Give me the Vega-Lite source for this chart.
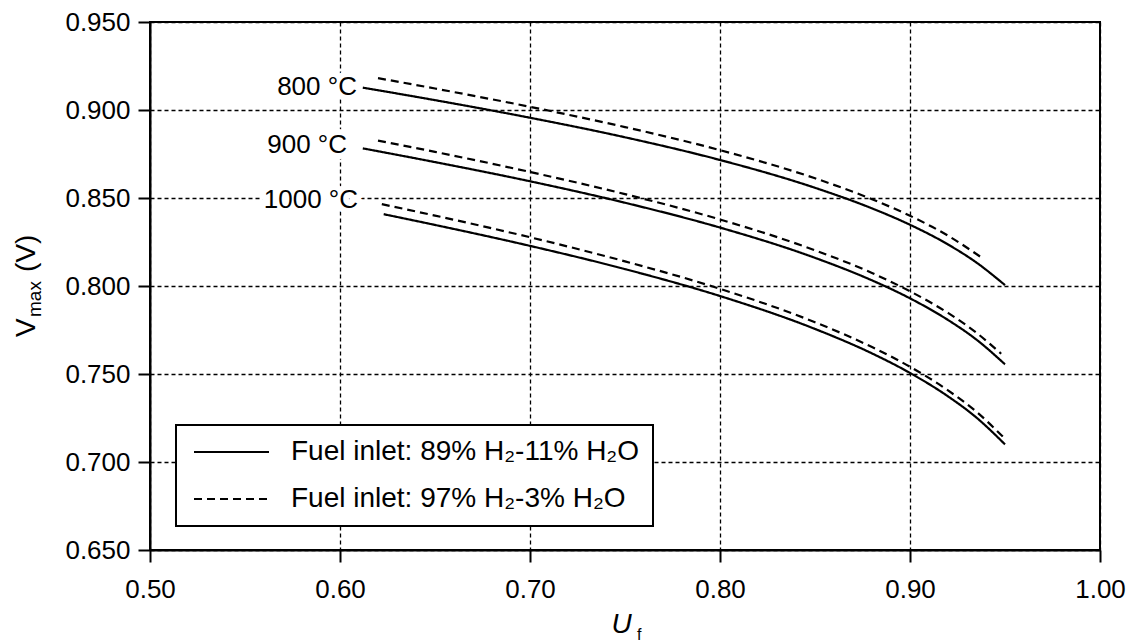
{
  "$schema": "https://vega.github.io/schema/vega-lite/v6.json",
  "width": 950,
  "height": 528,
  "autosize": {"type": "none"},
  "padding": {"left": 150, "top": 22, "right": 29, "bottom": 94},
  "background": "white",
  "config": {
    "font": "Liberation Sans",
    "view": {"stroke": "black", "strokeWidth": 2},
    "axis": {
      "grid": true,
      "gridDash": [4, 3],
      "gridColor": "black",
      "gridWidth": 1.3,
      "gridOpacity": 1,
      "domainColor": "black",
      "domainWidth": 2,
      "tickColor": "black",
      "tickWidth": 2,
      "tickSize": 12,
      "labelFont": "Liberation Sans",
      "labelFontSize": 26,
      "labelColor": "black",
      "labelFlush": false,
      "labelOverlap": false,
      "titleFont": "Liberation Sans",
      "titleColor": "black",
      "titleFontWeight": "normal"
    },
    "legend": {
      "strokeColor": "black",
      "strokeWidth": 2,
      "fillColor": "white"
    }
  },
  "datasets": {
    "curves": [
      {"T": "800 °C", "fuel": "Fuel inlet: 89% H₂-11% H₂O", "U": 0.612, "V": 0.9127},
      {"T": "800 °C", "fuel": "Fuel inlet: 89% H₂-11% H₂O", "U": 0.65, "V": 0.9056},
      {"T": "800 °C", "fuel": "Fuel inlet: 89% H₂-11% H₂O", "U": 0.70, "V": 0.8956},
      {"T": "800 °C", "fuel": "Fuel inlet: 89% H₂-11% H₂O", "U": 0.75, "V": 0.8845},
      {"T": "800 °C", "fuel": "Fuel inlet: 89% H₂-11% H₂O", "U": 0.80, "V": 0.8716},
      {"T": "800 °C", "fuel": "Fuel inlet: 89% H₂-11% H₂O", "U": 0.85, "V": 0.8558},
      {"T": "800 °C", "fuel": "Fuel inlet: 89% H₂-11% H₂O", "U": 0.88, "V": 0.8441},
      {"T": "800 °C", "fuel": "Fuel inlet: 89% H₂-11% H₂O", "U": 0.90, "V": 0.8348},
      {"T": "800 °C", "fuel": "Fuel inlet: 89% H₂-11% H₂O", "U": 0.92, "V": 0.8236},
      {"T": "800 °C", "fuel": "Fuel inlet: 89% H₂-11% H₂O", "U": 0.935, "V": 0.8133},
      {"T": "800 °C", "fuel": "Fuel inlet: 89% H₂-11% H₂O", "U": 0.95, "V": 0.8005},
      {"T": "800 °C", "fuel": "Fuel inlet: 97% H₂-3% H₂O", "U": 0.62, "V": 0.9181},
      {"T": "800 °C", "fuel": "Fuel inlet: 97% H₂-3% H₂O", "U": 0.65, "V": 0.9122},
      {"T": "800 °C", "fuel": "Fuel inlet: 97% H₂-3% H₂O", "U": 0.70, "V": 0.9018},
      {"T": "800 °C", "fuel": "Fuel inlet: 97% H₂-3% H₂O", "U": 0.75, "V": 0.8903},
      {"T": "800 °C", "fuel": "Fuel inlet: 97% H₂-3% H₂O", "U": 0.80, "V": 0.8772},
      {"T": "800 °C", "fuel": "Fuel inlet: 97% H₂-3% H₂O", "U": 0.85, "V": 0.8612},
      {"T": "800 °C", "fuel": "Fuel inlet: 97% H₂-3% H₂O", "U": 0.88, "V": 0.8493},
      {"T": "800 °C", "fuel": "Fuel inlet: 97% H₂-3% H₂O", "U": 0.90, "V": 0.8399},
      {"T": "800 °C", "fuel": "Fuel inlet: 97% H₂-3% H₂O", "U": 0.92, "V": 0.8286},
      {"T": "800 °C", "fuel": "Fuel inlet: 97% H₂-3% H₂O", "U": 0.938, "V": 0.8159},
      {"T": "900 °C", "fuel": "Fuel inlet: 89% H₂-11% H₂O", "U": 0.612, "V": 0.8782},
      {"T": "900 °C", "fuel": "Fuel inlet: 89% H₂-11% H₂O", "U": 0.65, "V": 0.8704},
      {"T": "900 °C", "fuel": "Fuel inlet: 89% H₂-11% H₂O", "U": 0.70, "V": 0.8595},
      {"T": "900 °C", "fuel": "Fuel inlet: 89% H₂-11% H₂O", "U": 0.75, "V": 0.8473},
      {"T": "900 °C", "fuel": "Fuel inlet: 89% H₂-11% H₂O", "U": 0.80, "V": 0.8332},
      {"T": "900 °C", "fuel": "Fuel inlet: 89% H₂-11% H₂O", "U": 0.85, "V": 0.8160},
      {"T": "900 °C", "fuel": "Fuel inlet: 89% H₂-11% H₂O", "U": 0.88, "V": 0.8032},
      {"T": "900 °C", "fuel": "Fuel inlet: 89% H₂-11% H₂O", "U": 0.90, "V": 0.7930},
      {"T": "900 °C", "fuel": "Fuel inlet: 89% H₂-11% H₂O", "U": 0.92, "V": 0.7807},
      {"T": "900 °C", "fuel": "Fuel inlet: 89% H₂-11% H₂O", "U": 0.935, "V": 0.7695},
      {"T": "900 °C", "fuel": "Fuel inlet: 89% H₂-11% H₂O", "U": 0.95, "V": 0.7555},
      {"T": "900 °C", "fuel": "Fuel inlet: 97% H₂-3% H₂O", "U": 0.62, "V": 0.8826},
      {"T": "900 °C", "fuel": "Fuel inlet: 97% H₂-3% H₂O", "U": 0.65, "V": 0.8762},
      {"T": "900 °C", "fuel": "Fuel inlet: 97% H₂-3% H₂O", "U": 0.70, "V": 0.8648},
      {"T": "900 °C", "fuel": "Fuel inlet: 97% H₂-3% H₂O", "U": 0.75, "V": 0.8522},
      {"T": "900 °C", "fuel": "Fuel inlet: 97% H₂-3% H₂O", "U": 0.80, "V": 0.8378},
      {"T": "900 °C", "fuel": "Fuel inlet: 97% H₂-3% H₂O", "U": 0.85, "V": 0.8203},
      {"T": "900 °C", "fuel": "Fuel inlet: 97% H₂-3% H₂O", "U": 0.88, "V": 0.8074},
      {"T": "900 °C", "fuel": "Fuel inlet: 97% H₂-3% H₂O", "U": 0.90, "V": 0.7970},
      {"T": "900 °C", "fuel": "Fuel inlet: 97% H₂-3% H₂O", "U": 0.92, "V": 0.7847},
      {"T": "900 °C", "fuel": "Fuel inlet: 97% H₂-3% H₂O", "U": 0.935, "V": 0.7734},
      {"T": "900 °C", "fuel": "Fuel inlet: 97% H₂-3% H₂O", "U": 0.948, "V": 0.7615},
      {"T": "1000 °C", "fuel": "Fuel inlet: 89% H₂-11% H₂O", "U": 0.623, "V": 0.8408},
      {"T": "1000 °C", "fuel": "Fuel inlet: 89% H₂-11% H₂O", "U": 0.65, "V": 0.8347},
      {"T": "1000 °C", "fuel": "Fuel inlet: 89% H₂-11% H₂O", "U": 0.70, "V": 0.8228},
      {"T": "1000 °C", "fuel": "Fuel inlet: 89% H₂-11% H₂O", "U": 0.75, "V": 0.8096},
      {"T": "1000 °C", "fuel": "Fuel inlet: 89% H₂-11% H₂O", "U": 0.80, "V": 0.7943},
      {"T": "1000 °C", "fuel": "Fuel inlet: 89% H₂-11% H₂O", "U": 0.85, "V": 0.7756},
      {"T": "1000 °C", "fuel": "Fuel inlet: 89% H₂-11% H₂O", "U": 0.88, "V": 0.7617},
      {"T": "1000 °C", "fuel": "Fuel inlet: 89% H₂-11% H₂O", "U": 0.90, "V": 0.7506},
      {"T": "1000 °C", "fuel": "Fuel inlet: 89% H₂-11% H₂O", "U": 0.92, "V": 0.7373},
      {"T": "1000 °C", "fuel": "Fuel inlet: 89% H₂-11% H₂O", "U": 0.935, "V": 0.7252},
      {"T": "1000 °C", "fuel": "Fuel inlet: 89% H₂-11% H₂O", "U": 0.95, "V": 0.7100},
      {"T": "1000 °C", "fuel": "Fuel inlet: 97% H₂-3% H₂O", "U": 0.622, "V": 0.8465},
      {"T": "1000 °C", "fuel": "Fuel inlet: 97% H₂-3% H₂O", "U": 0.65, "V": 0.8400},
      {"T": "1000 °C", "fuel": "Fuel inlet: 97% H₂-3% H₂O", "U": 0.70, "V": 0.8277},
      {"T": "1000 °C", "fuel": "Fuel inlet: 97% H₂-3% H₂O", "U": 0.75, "V": 0.8140},
      {"T": "1000 °C", "fuel": "Fuel inlet: 97% H₂-3% H₂O", "U": 0.80, "V": 0.7984},
      {"T": "1000 °C", "fuel": "Fuel inlet: 97% H₂-3% H₂O", "U": 0.85, "V": 0.7794},
      {"T": "1000 °C", "fuel": "Fuel inlet: 97% H₂-3% H₂O", "U": 0.88, "V": 0.7653},
      {"T": "1000 °C", "fuel": "Fuel inlet: 97% H₂-3% H₂O", "U": 0.90, "V": 0.7541},
      {"T": "1000 °C", "fuel": "Fuel inlet: 97% H₂-3% H₂O", "U": 0.92, "V": 0.7407},
      {"T": "1000 °C", "fuel": "Fuel inlet: 97% H₂-3% H₂O", "U": 0.935, "V": 0.7285},
      {"T": "1000 °C", "fuel": "Fuel inlet: 97% H₂-3% H₂O", "U": 0.95, "V": 0.7132}
    ],
    "labels": [
      {"label": "800 °C", "U": 0.6089, "V": 0.9131},
      {"label": "900 °C", "U": 0.6037, "V": 0.8801},
      {"label": "1000 °C", "U": 0.6095, "V": 0.8489}
    ]
  },
  "layer": [
    {
      "data": {"name": "labels"},
      "mark": {"type": "text", "align": "right", "baseline": "middle", "fontSize": 26, "fill": "white", "stroke": "white", "strokeWidth": 12, "strokeJoin": "round"},
      "encoding": {
        "x": {"field": "U", "type": "quantitative"},
        "y": {"field": "V", "type": "quantitative"},
        "text": {"field": "label"}
      }
    },
    {
      "data": {"name": "curves"},
      "mark": {"type": "line", "interpolate": "monotone", "strokeWidth": 2.2, "color": "black"},
      "encoding": {
        "x": {
          "field": "U", "type": "quantitative",
          "scale": {"domain": [0.5, 1.0], "nice": false, "zero": false},
          "axis": {
            "values": [0.5, 0.6, 0.7, 0.8, 0.9, 1.0],
            "format": ".2f",
            "labelPadding": 14,
            "title": "U",
            "titleFontStyle": "italic",
            "titleFontSize": 28,
            "titleX": 471,
            "titlePadding": 8
          }
        },
        "y": {
          "field": "V", "type": "quantitative",
          "scale": {"domain": [0.65, 0.95], "nice": false, "zero": false},
          "axis": {
            "values": [0.65, 0.7, 0.75, 0.8, 0.85, 0.9, 0.95],
            "format": ".3f",
            "labelPadding": 8,
            "title": null
          }
        },
        "detail": {"field": "T"},
        "strokeDash": {
          "field": "fuel", "type": "nominal",
          "scale": {
            "domain": ["Fuel inlet: 89% H₂-11% H₂O", "Fuel inlet: 97% H₂-3% H₂O"],
            "range": [[1, 0], [8, 5]]
          },
          "legend": {
            "orient": "none",
            "legendX": 26,
            "legendY": 403,
            "title": null,
            "symbolType": "stroke",
            "symbolSize": 5625,
            "symbolStrokeWidth": 2,
            "symbolStrokeColor": "black",
            "symbolOffset": 4,
            "clipHeight": 28,
            "labelFont": "Liberation Sans",
            "labelFontSize": 28,
            "labelColor": "black",
            "labelLimit": 600,
            "labelOffset": 21,
            "padding": 13,
            "rowPadding": 19
          }
        }
      }
    },
    {
      "data": {"name": "labels"},
      "mark": {"type": "text", "align": "right", "baseline": "middle", "fontSize": 26, "color": "black"},
      "encoding": {
        "x": {"field": "U", "type": "quantitative"},
        "y": {"field": "V", "type": "quantitative"},
        "text": {"field": "label"}
      }
    },
    {
      "data": {"values": [{}]},
      "mark": {"type": "text", "text": "f", "fontSize": 16, "align": "left", "baseline": "alphabetic", "color": "black"},
      "encoding": {
        "x": {"datum": 0.7563, "type": "quantitative"},
        "y": {"datum": 0.5989, "type": "quantitative"}
      }
    },
    {
      "data": {"values": [{}]},
      "mark": {"type": "text", "text": "V", "fontSize": 28, "angle": 270, "align": "left", "baseline": "alphabetic", "color": "black"},
      "encoding": {
        "x": {"datum": 0.4395, "type": "quantitative"},
        "y": {"datum": 0.771, "type": "quantitative"}
      }
    },
    {
      "data": {"values": [{}]},
      "mark": {"type": "text", "text": "max", "fontSize": 19, "angle": 270, "align": "left", "baseline": "alphabetic", "color": "black"},
      "encoding": {
        "x": {"datum": 0.4426, "type": "quantitative"},
        "y": {"datum": 0.7824, "type": "quantitative"}
      }
    },
    {
      "data": {"values": [{}]},
      "mark": {"type": "text", "text": "(V)", "fontSize": 28, "angle": 270, "align": "left", "baseline": "alphabetic", "color": "black"},
      "encoding": {
        "x": {"datum": 0.4395, "type": "quantitative"},
        "y": {"datum": 0.808, "type": "quantitative"}
      }
    }
  ]
}
